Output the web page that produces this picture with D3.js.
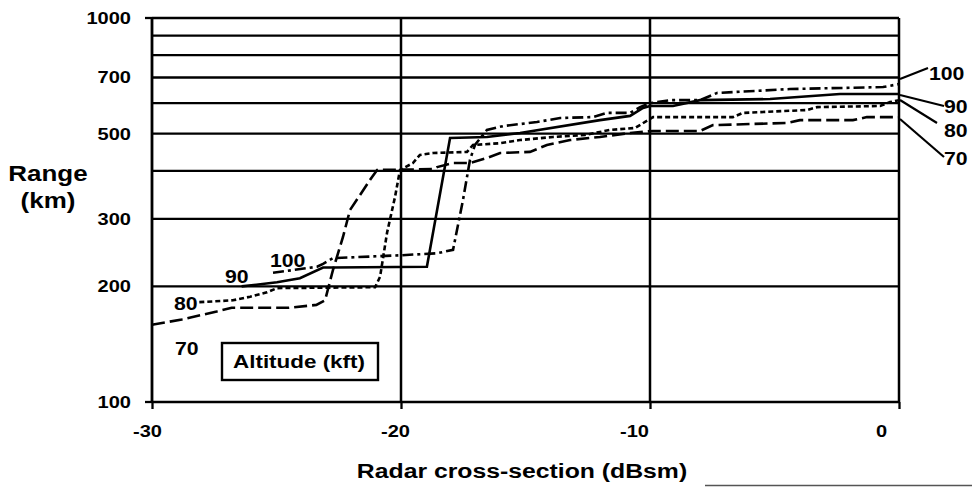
<!DOCTYPE html>
<html><head><meta charset="utf-8">
<script src="https://cdn.jsdelivr.net/npm/d3@7"></script>
<style>
body{margin:0;background:#fff}
text{font-family:"Liberation Sans",Arial,sans-serif;font-weight:bold;fill:#000}
</style></head>
<body><svg id="chart" width="972" height="487"></svg>
<script>
// ---- data ----
const xTicks = [-30, -20, -10, 0];
const yTickLabels = [100, 200, 300, 500, 700, 1000];
const yGridValues = [100, 200, 300, 400, 500, 600, 700, 800, 900, 1000];
const xGridValues = [-20, -10, 0];
const altitudes = ["70", "80", "90", "100"];

const rcs70 = [-30, -28.8, -27.4, -26.8, -24.5, -23.4, -23.05, -22.73, -22.33, -22.05, -21.24, -20.96, -18.7, -18.55, -17.91, -17.23, -16.55, -16.02, -14.82, -14.14, -13.21, -12.01, -10.8, -9.88, -7.99, -7.47, -4.5, -3.98, -1.85, -1.29, 0];
const range70 = [159, 164, 172, 176, 176, 179, 184, 221, 269, 316, 379, 402, 404, 409, 419, 419, 432, 445, 448, 467, 481, 490, 502, 508, 508, 526, 533, 542, 542, 552, 552];

const rcs80 = [-28.1, -26.75, -26.06, -25.38, -24.98, -21.04, -20.84, -20.56, -20.24, -20.04, -19.52, -19.24, -18.71, -17.35, -17.11, -16.02, -15.22, -13.9, -12.61, -11.61, -10.6, -9.88, -6.67, -6.27, -3.69, -3.29, -0.76, -0.36, 0];
const range80 = [182, 184, 188, 193, 198, 199, 212, 276, 342, 402, 419, 440, 445, 448, 467, 472, 481, 490, 496, 511, 517, 552, 552, 566, 576, 586, 590, 604, 611];

const rcs90 = [-26.4, -24.98, -24.06, -23.13, -22.73, -18.96, -18.03, -16.55, -15.22, -12.01, -10.8, -10.28, -10.0, -9.08, -7.99, -5.18, -2.37, 0];
const range90 = [200, 205, 210, 224, 224, 225, 487, 490, 502, 542, 556, 583, 590, 590, 611, 615, 634, 634];

const rcs100 = [-25.14, -23.37, -23.13, -22.73, -20.04, -18.55, -17.91, -17.51, -17.23, -17.03, -16.55, -15.9, -14.54, -13.61, -12.29, -11.73, -10.8, -10.4, -10.0, -9.2, -7.99, -7.31, -4.38, -0.64, 0];
const range100 = [217, 225, 229, 237, 241, 244, 249, 336, 427, 467, 511, 523, 536, 549, 552, 566, 566, 586, 600, 611, 611, 638, 653, 661, 673];

// ---- layout / style ----
const svg = d3.select("#chart");
const L = 152, R = 899, T = 18, B = 402;
const x = d3.scaleLinear().domain([-30, 0]).range([L, R]);
const y = d3.scaleLog().domain([100, 1000]).range([B, T]);
const SX = 1.18; // horizontal stretch of lettering in the scan
const xLabelNudge = [-5, -6, -16, -18];

function stretch(sel) {
  sel.each(function () {
    const t = d3.select(this);
    const X = +t.attr("x") || 0;
    t.attr("transform", `translate(${X * (1 - SX)},0) scale(${SX},1)`);
  });
}

// horizontal grid
svg.append("g").selectAll("line").data(yGridValues).join("line")
  .attr("x1", L).attr("x2", R)
  .attr("y1", d => y(d)).attr("y2", d => y(d))
  .attr("stroke", "#000").attr("stroke-width", 2.3);
// vertical grid
svg.append("g").selectAll("line").data(xGridValues).join("line")
  .attr("x1", d => x(d)).attr("x2", d => x(d))
  .attr("y1", T).attr("y2", B)
  .attr("stroke", "#000").attr("stroke-width", 2.5);

// axes
const yAxis = svg.append("g").attr("transform", `translate(${L},0)`)
  .call(d3.axisLeft(y).tickValues(yTickLabels).tickFormat(d => String(d)).tickSize(0).tickPadding(21));
yAxis.select(".domain").remove();
yAxis.selectAll("text").style("font-size", "17px");
yAxis.selectAll("text").call(stretch);
// decade ticks
svg.append("g").selectAll("line").data([100, 1000]).join("line")
  .attr("x1", L - 7).attr("x2", L).attr("y1", d => y(d)).attr("y2", d => y(d))
  .attr("stroke", "#000").attr("stroke-width", 2.3);
svg.append("line").attr("x1", L).attr("x2", L).attr("y1", T - 1).attr("y2", B + 1)
  .attr("stroke", "#000").attr("stroke-width", 2.8);

const xAxis = svg.append("g").attr("transform", `translate(0,${B})`)
  .call(d3.axisBottom(x).tickValues(xTicks).tickFormat(d => String(d)).tickSize(7).tickPadding(16));
xAxis.select(".domain").remove();
xAxis.selectAll("line").attr("stroke-width", 2.3);
xAxis.selectAll("text").style("font-size", "17px").attr("x", (d, i) => xLabelNudge[i]);
xAxis.selectAll("text").call(stretch);

// series
const seriesDefs = [
  {name: altitudes[0], xs: rcs70, ys: range70, dash: "13,5"},
  {name: altitudes[1], xs: rcs80, ys: range80, dash: "5,3"},
  {name: altitudes[2], xs: rcs90, ys: range90, dash: null},
  {name: altitudes[3], xs: rcs100, ys: range100, dash: "11,4,3,4"}
];
const line = d3.line().x(d => x(d[0])).y(d => y(d[1]));
svg.append("g").selectAll("path").data(seriesDefs).join("path")
  .attr("d", s => line(d3.zip(s.xs, s.ys)))
  .attr("fill", "none").attr("stroke", "#000").attr("stroke-width", 2.6)
  .attr("stroke-dasharray", s => s.dash);

// left-side series labels
const leftLbl = svg.append("g").style("font-size", "18px");
leftLbl.append("text").attr("x", 175).attr("y", 355).text(altitudes[0]);
leftLbl.append("text").attr("x", 174).attr("y", 310).text(altitudes[1]);
leftLbl.append("text").attr("x", 225).attr("y", 283).text(altitudes[2]);
leftLbl.append("text").attr("x", 270).attr("y", 267).text(altitudes[3]);
leftLbl.selectAll("text").call(stretch);

// right-side labels with leaders
const rightLbl = [
  {t: altitudes[3], y0: 79, x1: 928, y1: 68, tx: 929, ty: 80},
  {t: altitudes[2], y0: 95, x1: 944, y1: 106, tx: 944, ty: 113},
  {t: altitudes[1], y0: 100, x1: 937, y1: 123, tx: 944, ty: 137},
  {t: altitudes[0], y0: 119, x1: 944, y1: 157, tx: 944, ty: 165}
];
const rg = svg.append("g");
rg.selectAll("line").data(rightLbl).join("line")
  .attr("x1", R + 1).attr("y1", d => d.y0).attr("x2", d => d.x1).attr("y2", d => d.y1)
  .attr("stroke", "#000").attr("stroke-width", 2.2);
rg.selectAll("text").data(rightLbl).join("text")
  .attr("x", d => d.tx).attr("y", d => d.ty).style("font-size", "18px").text(d => d.t)
  .call(stretch);

// legend box
svg.append("rect").attr("x", 222).attr("y", 343).attr("width", 156).attr("height", 37)
  .attr("fill", "#fff").attr("stroke", "#000").attr("stroke-width", 2.4);
svg.append("text").attr("x", 299).attr("y", 368).attr("text-anchor", "middle")
  .style("font-size", "19px").text("Altitude (kft)").call(stretch);

// axis titles
const yt = svg.append("g").style("font-size", "22px");
yt.append("text").attr("x", 48).attr("y", 181).attr("text-anchor", "middle").text("Range");
yt.append("text").attr("x", 48).attr("y", 208).attr("text-anchor", "middle").text("(km)");
yt.selectAll("text").call(stretch);
svg.append("text").attr("x", 522).attr("y", 478).attr("text-anchor", "middle")
  .style("font-size", "21px").text("Radar cross-section (dBsm)").call(stretch);

// scan edge line at bottom right
svg.append("line").attr("x1", 705).attr("x2", 972).attr("y1", 485.5).attr("y2", 485.5)
  .attr("stroke", "#555").attr("stroke-width", 1.5);
</script></body></html>
